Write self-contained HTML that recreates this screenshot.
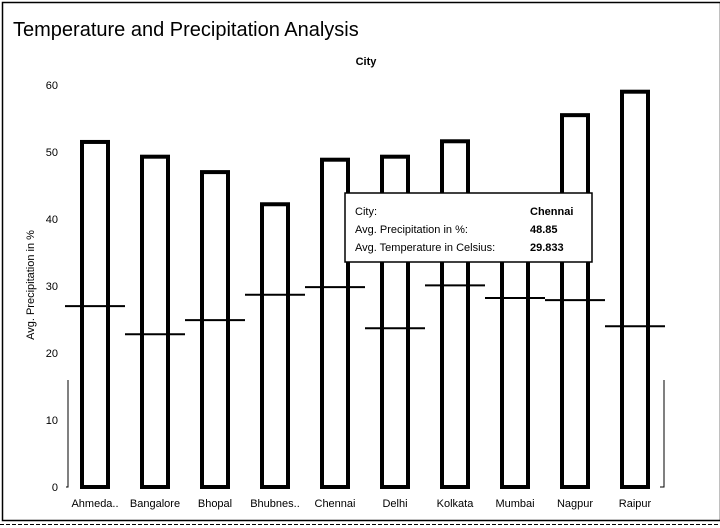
<!DOCTYPE html>
<html><head><meta charset="utf-8"><style>
body{margin:0;background:#fff;font-family:"Liberation Sans","DejaVu Sans",sans-serif}
#c{position:relative;width:720px;height:528px;overflow:hidden}
</style></head><body>
<div id="c">
<svg id="s" width="720" height="528" xmlns="http://www.w3.org/2000/svg">
<rect x="2.5" y="2.5" width="718" height="518" fill="none" stroke="#000" stroke-width="1.5"/>
<line x1="0" y1="524.5" x2="720" y2="524.5" stroke="#000" stroke-dasharray="4,2"/>
<text x="13" y="36" font-size="20" fill="#000">Temperature and Precipitation Analysis</text>
<text x="366" y="65" font-size="11" font-weight="bold" text-anchor="middle">City</text>
<text transform="translate(34,285) rotate(-90)" font-size="11" text-anchor="middle">Avg. Precipitation in %</text>
<g id="yt"></g><g id="bars"></g><g id="xl"></g>
<path d="M68,380 V487 H66" fill="none" stroke="#000"/>
<path d="M664,380 V487 H660" fill="none" stroke="#000"/>
<g>
<rect x="345" y="193" width="247" height="69" fill="#fff" stroke="#000" stroke-width="1.5"/>
<text x="355" y="215" font-size="11">City:</text>
<text x="530" y="215" font-size="11" font-weight="bold">Chennai</text>
<text x="355" y="233" font-size="11">Avg. Precipitation in %:</text>
<text x="530" y="233" font-size="11" font-weight="bold">48.85</text>
<text x="355" y="251" font-size="11">Avg. Temperature in Celsius:</text>
<text x="530" y="251" font-size="11" font-weight="bold">29.833</text>
</g>
</svg></div>
<script>
const cities=["Ahmeda..","Bangalore","Bhopal","Bhubnes..","Chennai","Delhi","Kolkata","Mumbai","Nagpur","Raipur"];
const precip=[51.5,49.3,47,42.2,48.85,49.3,51.6,43,55.5,59];
const temp=[27.0,22.8,24.9,28.7,29.833,23.7,30.1,28.2,27.9,24.0];
const yTicks=[0,10,20,30,40,50,60];
const NS="http://www.w3.org/2000/svg";
function y(v){return 487-v*6.7;}
function x(i){return 95+i*60;}
function mk(t,a,p){const e=document.createElementNS(NS,t);for(const k in a)e.setAttribute(k,a[k]);p.appendChild(e);return e;}
const yt=document.getElementById('yt'),bars=document.getElementById('bars'),xl=document.getElementById('xl');
yTicks.forEach(v=>{const t=mk('text',{x:58,y:y(v)+4,'font-size':11,'text-anchor':'end'},yt);t.textContent=v;

});
cities.forEach((c,i)=>{
const r=mk('rect',{x:x(i)-13,y:y(precip[i]),width:26,height:y(0)-y(precip[i]),fill:'#fff',stroke:'#000','stroke-width':4},bars);


const l=mk('line',{x1:x(i)-30,x2:x(i)+30,y1:y(temp[i]),y2:y(temp[i]),stroke:'#000','stroke-width':2},bars);


const t=mk('text',{x:x(i),y:507,'font-size':11,'text-anchor':'middle'},xl);t.textContent=c;


});
</script>
</body></html>
